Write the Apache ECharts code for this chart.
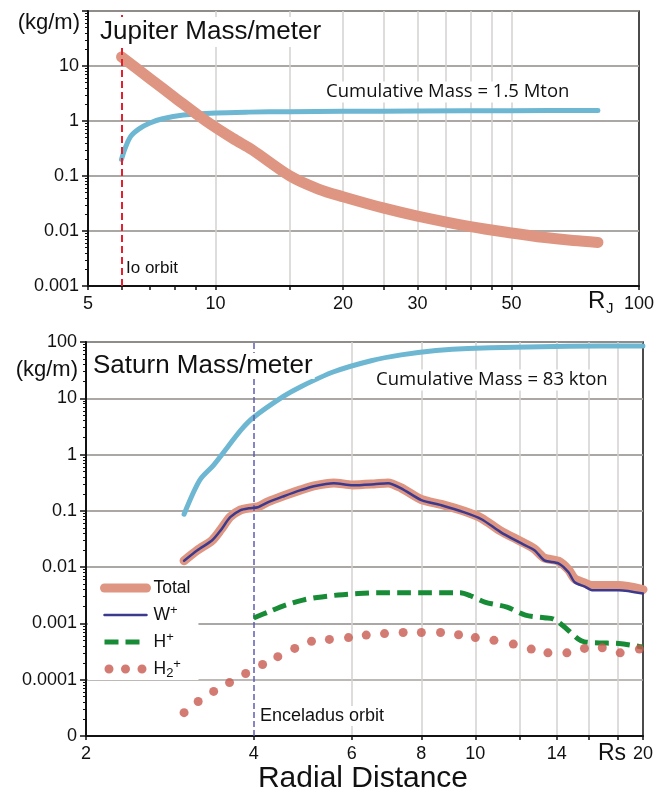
<!DOCTYPE html>
<html>
<head>
<meta charset="utf-8">
<script src="https://cdn.jsdelivr.net/npm/echarts@6/dist/echarts.min.js"></script>
<style>
  html, body { margin: 0; padding: 0; background: #fff; }
  #chart { width: 665px; height: 793px; }
</style>
</head>
<body>
<div id="chart"></div>
<script>
// ===== Jupiter data =====
const jupTotalR = [6, 7, 8, 9.5, 11, 12.2, 15, 17.5, 20, 25, 30, 40, 50, 60, 70, 80];
const jupTotal = [14.6, 5.9, 2.7, 1.0, 0.48, 0.3, 0.1, 0.058, 0.042, 0.026, 0.0187, 0.012, 0.0092, 0.0076, 0.0067, 0.0062];
const jupCumR = [6, 6.1, 6.3, 6.6, 7, 7.5, 8.4, 10, 12, 15, 20, 30, 50, 80];
const jupCum = [0.2, 0.3, 0.52, 0.72, 0.92, 1.1, 1.28, 1.4, 1.45, 1.48, 1.5, 1.52, 1.54, 1.55];

const jupXTicks = [5, 6, 7, 8, 9, 10, 15, 20, 25, 30, 35, 40, 45, 50, 100];
const jupXLabels = [5, 10, 20, 30, 50, 100];
const jupXGrid = [10, 15, 20, 25, 30, 35, 40, 45, 50];
const jupYLabels = [0.001, 0.01, 0.1, 1, 10];

// ===== Saturn data =====
const satCumR = [3.0, 3.2, 3.39, 3.59, 3.79, 4.0, 4.53, 4.86, 5.57, 6.5, 7.36, 8.5, 9.7, 14.7, 20];
const satCum = [0.087, 0.35, 0.65, 1.35, 2.7, 4.6, 10.9, 16.1, 29.6, 46.5, 59, 70.6, 77, 84, 85];

const satR = [3.0, 3.17, 3.37, 3.49, 3.63, 3.79, 3.92, 4.07, 4.24, 4.53, 4.86, 5.13, 5.57, 6.02, 6.58, 6.97,
    7.36, 8.0, 8.69, 9.56, 10.26, 11.1, 11.96, 12.77, 13.3, 14.1, 14.7, 15.08, 15.73, 16.19, 18.1, 20];
const satW = [0.013, 0.020, 0.030, 0.045, 0.077, 0.103, 0.111, 0.116, 0.142, 0.182, 0.233, 0.274, 0.31, 0.285, 0.297, 0.31,
    0.252, 0.155, 0.126, 0.094, 0.071, 0.042, 0.028, 0.020, 0.0132, 0.0117, 0.0081, 0.0054, 0.0045, 0.0039, 0.0039, 0.0034];
const satTotal = [0.013, 0.020, 0.030, 0.046, 0.078, 0.104, 0.112, 0.118, 0.144, 0.185, 0.236, 0.278, 0.314, 0.289, 0.301, 0.314,
    0.256, 0.159, 0.13, 0.098, 0.074, 0.044, 0.03, 0.021, 0.0145, 0.0128, 0.009, 0.0062, 0.0052, 0.0047, 0.0047, 0.0040];

const hpR = [4.0, 4.25, 4.55, 4.9, 5.2, 5.67, 6.16, 6.74, 7.4, 8.06, 8.83, 9.4, 9.8, 10.4, 11.4, 12.3, 13.3, 13.8,
    14.35, 15.3, 15.7, 16.7, 18.1, 19.7, 20];
const hp = [0.00125, 0.0016, 0.0021, 0.0026, 0.0029, 0.0032, 0.0034, 0.0035, 0.0035, 0.0035, 0.0035, 0.0035, 0.0031,
    0.0024, 0.00195, 0.0014, 0.00126, 0.0012, 0.00092, 0.00053, 0.00047, 0.00045, 0.00044, 0.00039, 0.00038];

const h2R = [3.0, 3.18, 3.39, 3.62, 3.87, 4.15, 4.42, 4.74, 5.08, 5.47, 5.92, 6.37, 6.87, 7.42, 8.0, 8.66, 9.33,
    10.0, 10.8, 11.7, 12.6, 13.5, 14.6, 15.7, 16.9, 18.2, 19.7];
const h2 = [2.6e-5, 4.1e-5, 6.2e-5, 8.9e-5, 1.29e-4, 1.86e-4, 2.57e-4, 3.6e-4, 4.8e-4, 5.2e-4, 5.6e-4, 6.2e-4, 6.6e-4,
    6.9e-4, 6.9e-4, 6.9e-4, 6.3e-4, 5.6e-4, 5.0e-4, 4.3e-4, 3.5e-4, 3.0e-4, 3.0e-4, 3.6e-4, 3.7e-4, 3.0e-4, 3.5e-4];

const satXTicks = [2, 4, 6, 8, 10, 12, 14, 16, 18, 20];
const satXLabels = [2, 4, 6, 8, 10, 14, 20];
const satXGrid = [6, 8, 10, 12, 14, 16, 18];
const satYLabels = [1e-5, 1e-4, 0.001, 0.01, 0.1, 1, 10, 100];

// ===== style =====
const FONT = '"Liberation Sans", Arial, Helvetica, sans-serif';
const C = {
    salmon: '#de9682', blue: '#6db7d2', navy: '#3b3a8e', green: '#178b36', dots: '#c85a4f',
    io: '#e41f2e', enc: '#5d5fb0', hGrid: '#a6a29f', vGrid: '#d5d1d0', axis: '#111',
};

const pts = (xs, ys) => xs.map((x, i) => [x, ys[i]]);

// 2..9 x 10^k minor ticks between two decades
function minorTicks(e0, e1) {
    const out = [];
    for (let e = e0; e < e1; e++) {
        for (let m = 2; m <= 9; m++) out.push(m * Math.pow(10, e));
    }
    return out;
}

function fmtY(v) {
    if (v < 5e-5) return '0';
    const e = Math.round(Math.log10(v));
    return e >= 0 ? String(Math.pow(10, e)) : Math.pow(10, e).toFixed(-e);
}

function xMain(grid, min, max, ticks, labels) {
    return {
        type: 'log', logBase: 10, gridIndex: grid, min, max, position: 'bottom',
        axisLine: { show: true, lineStyle: { color: C.axis, width: 2 } },
        axisTick: { show: true, length: 4, customValues: ticks, lineStyle: { color: C.axis, width: 1.5 } },
        axisLabel: { customValues: labels, margin: 9, fontSize: 18, color: '#111', fontFamily: FONT, hideOverlap: false,
            formatter: v => String(Math.round(v)) },
        splitLine: { show: false },
    };
}

function xGridLines(grid, min, max, vals) {
    return {
        type: 'log', logBase: 10, gridIndex: grid, min, max, position: 'bottom',
        axisLine: { show: false }, axisLabel: { show: false },
        axisTick: { show: false, customValues: vals },
        splitLine: { show: true, lineStyle: { color: C.vGrid, width: 1.5 } },
    };
}

function yMain(grid, min, max, labels) {
    return {
        type: 'log', logBase: 10, gridIndex: grid, min, max, position: 'left',
        axisLine: { show: true, lineStyle: { color: C.axis, width: 2 } },
        axisTick: { show: true, length: 6, customValues: satYLabels.concat(jupYLabels), lineStyle: { color: C.axis, width: 1.5 } },
        axisLabel: { customValues: labels, margin: 9, fontSize: 18, color: '#111', fontFamily: FONT, hideOverlap: false, formatter: fmtY },
        splitLine: { show: true, lineStyle: { color: C.hGrid, width: 1.5 } },
    };
}

function yMinor(grid, min, max, e0, e1) {
    return {
        type: 'log', logBase: 10, gridIndex: grid, min, max, position: 'left',
        axisLine: { show: false }, axisLabel: { show: false }, splitLine: { show: false },
        axisTick: { show: true, length: 3, customValues: minorTicks(e0, e1), lineStyle: { color: C.axis, width: 1 } },
    };
}

function txt(text, x, y, size, extra) {
    const style = Object.assign({
        text, x, y, font: size + 'px ' + FONT, fill: '#111', align: 'left', verticalAlign: 'middle',
    }, extra || {});
    return { type: 'text', z: 100, style };
}

const DOT_ICON = 'path://M0,4.5a4.5,4.5 0 1,0 9,0a4.5,4.5 0 1,0 -9,0Z' +
    'M16.5,4.5a4.5,4.5 0 1,0 9,0a4.5,4.5 0 1,0 -9,0Z' +
    'M33,4.5a4.5,4.5 0 1,0 9,0a4.5,4.5 0 1,0 -9,0Z';

const legendText = { 'Total': '{b|Total}', 'W+': '{b|W}{sup|+}', 'H+': '{b|H}{sup|+}', 'H2+': '{b|H}{sub|2}{sup|+}' };

const chart = echarts.init(document.getElementById('chart'), null, { renderer: 'canvas' });

chart.setOption({
    animation: false,
    backgroundColor: '#fff',
    textStyle: { fontFamily: FONT },
    grid: [
        { left: 88, top: 11, width: 551, height: 275, show: true, borderColor: C.axis, borderWidth: 1.5,
            backgroundColor: '#fff', outerBoundsMode: 'none' },
        { left: 86, top: 342, width: 557, height: 394, show: true, borderColor: C.axis, borderWidth: 1.5,
            backgroundColor: '#fff', outerBoundsMode: 'none' },
    ],
    xAxis: [
        xMain(0, 5, 100, jupXTicks, jupXLabels),
        xGridLines(0, 5, 100, jupXGrid),
        xMain(1, 2, 20, satXTicks, satXLabels),
        xGridLines(1, 2, 20, satXGrid),
    ],
    yAxis: [
        yMain(0, 0.001, 100, jupYLabels),
        yMinor(0, 0.001, 100, -3, 2),
        yMain(1, 1e-5, 100, satYLabels),
        yMinor(1, 1e-5, 100, -5, 2),
    ],
    legend: {
        data: [
            { name: 'Total', itemStyle: { opacity: 0 } },
            { name: 'W+', itemStyle: { opacity: 0 } },
            { name: 'H+', itemStyle: { opacity: 0 } },
            { name: 'H2+', icon: DOT_ICON },
        ],
        orient: 'vertical', left: 88, top: 577,
        itemWidth: 42, itemHeight: 9, itemGap: 7,
        padding: [2, 8, 0, 12], backgroundColor: '#fff',
        selectedMode: false,
        lineStyle: { width: 'inherit' },
        formatter: name => legendText[name],
        textStyle: {
            color: '#111', fontSize: 17, padding: [0, 0, 0, 2],
            rich: {
                b: { fontSize: 17.5, lineHeight: 22, color: '#111', fontFamily: FONT },
                sup: { fontSize: 13, verticalAlign: 'top', color: '#111', fontFamily: FONT },
                sub: { fontSize: 13, verticalAlign: 'bottom', color: '#111', fontFamily: FONT },
            },
        },
    },
    series: [
        // Jupiter
        {
            name: 'Jupiter cumulative', type: 'line', xAxisIndex: 0, yAxisIndex: 0,
            data: pts(jupCumR, jupCum), symbol: 'none', smooth: 0.3, z: 3,
            lineStyle: { color: C.blue, width: 5, cap: 'round', join: 'round' },
            markLine: {
                silent: true, symbol: ['none', 'none'], label: { show: false },
                lineStyle: { color: C.io, width: 2, type: [7, 4] },
                data: [{ xAxis: 6 }],
            },
        },
        {
            name: 'Jupiter total', type: 'line', xAxisIndex: 0, yAxisIndex: 0,
            data: pts(jupTotalR, jupTotal), symbol: 'none', smooth: 0.3, z: 4,
            lineStyle: { color: C.salmon, width: 11, cap: 'round', join: 'round' },
        },
        // Saturn
        {
            name: 'Saturn cumulative', type: 'line', xAxisIndex: 2, yAxisIndex: 2,
            data: pts(satCumR, satCum), symbol: 'none', smooth: 0.3, z: 3,
            lineStyle: { color: C.blue, width: 5, cap: 'round', join: 'round' },
            markLine: {
                silent: true, symbol: ['none', 'none'], label: { show: false },
                lineStyle: { color: C.enc, width: 1.5, type: [6, 3] },
                data: [{ xAxis: 4 }],
            },
        },
        {
            name: 'Total', type: 'line', xAxisIndex: 2, yAxisIndex: 2,
            data: pts(satR, satTotal), symbol: 'none', smooth: 0.25, z: 4,
            color: C.salmon,
            lineStyle: { color: C.salmon, width: 9, cap: 'round', join: 'round' },
        },
        {
            name: 'W+', type: 'line', xAxisIndex: 2, yAxisIndex: 2,
            data: pts(satR, satW), symbol: 'none', smooth: 0.25, z: 5,
            color: C.navy,
            lineStyle: { color: C.navy, width: 2.5, cap: 'round', join: 'round' },
        },
        {
            name: 'H+', type: 'line', xAxisIndex: 2, yAxisIndex: 2,
            data: pts(hpR, hp), symbol: 'none', smooth: 0.3, z: 5,
            color: C.green,
            lineStyle: { color: C.green, width: 5, type: [14, 7] },
        },
        {
            name: 'H2+', type: 'scatter', xAxisIndex: 2, yAxisIndex: 2,
            data: pts(h2R, h2), symbol: 'circle', symbolSize: 9, z: 5,
            itemStyle: { color: C.dots },
        },
    ],
    graphic: [
        txt('(kg/m)', 80, 23, 22, { align: 'right' }),
        txt('Jupiter Mass/meter', 97, 32, 26, { backgroundColor: '#fff', padding: [2, 3] }),
        txt('Cumulative Mass = 1.5 Mton', 323, 92, 18.5, { font: '18.5px "Open Sans", sans-serif', backgroundColor: '#fff', padding: [1, 3] }),
        txt('Io orbit', 126, 268, 17),
        txt('R', 588, 301, 24),
        txt('J', 606, 309, 15),
        txt('(kg/m)', 78, 370, 22, { align: 'right' }),
        txt('Saturn Mass/meter', 91, 366, 26, { backgroundColor: '#fff', padding: [0, 2] }),
        txt('Cumulative Mass = 83 kton', 373, 380, 18.5, { font: '18.5px "Open Sans", sans-serif', backgroundColor: '#fff', padding: [1, 3] }),
        txt('Enceladus orbit', 258, 716, 18, { backgroundColor: '#fff', padding: [1, 2] }),
        txt('Rs', 598, 754, 23),
        txt('Radial Distance', 363, 779, 30, { align: 'center' }),
    ],
});
</script>
</body>
</html>
